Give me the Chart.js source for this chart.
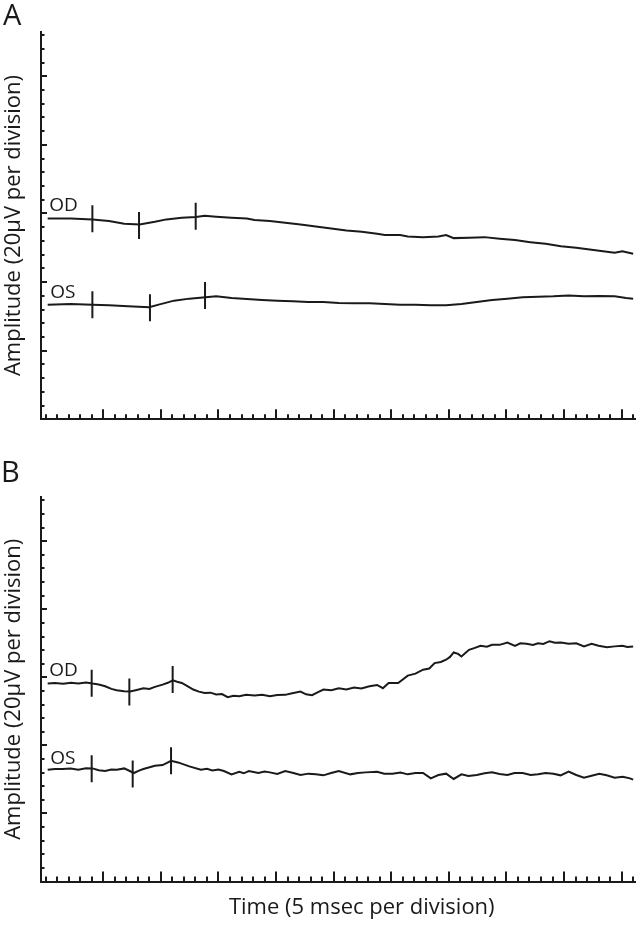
<!DOCTYPE html>
<html>
<head>
<meta charset="utf-8">
<script src="https://cdn.jsdelivr.net/npm/chart.js@4.4.1/dist/chart.umd.min.js"></script>
<style>
  html, body { margin: 0; padding: 0; background: #fff; }
  canvas { display: block; }
</style>
</head>
<body>
<canvas id="chartA" width="639" height="440"></canvas>
<canvas id="chartB" width="639" height="486"></canvas>
<script>
/* ── Data: time in msec (5 msec per division), amplitude in µV (20 µV per division) ── */
const timeA_OD = [0.17, 2.17, 4.06, 5.49, 6.82, 8.15, 9.48, 10.48, 11.81, 13.04, 13.80, 14.80, 16.13, 17.46, 18.13, 19.46, 20.79, 22.12, 23.45, 24.78, 26.11, 27.44, 28.77, 29.44, 30.77, 31.43, 32.76, 34.09, 34.76, 35.42, 36.75, 38.08, 39.41, 40.74, 42.07, 43.40, 44.73, 46.06, 47.39, 48.72, 49.39, 50.06, 51.0];
const ampA_OD  = [58.57, 58.57, 58.28, 57.79, 57.01, 56.82, 57.60, 58.28, 58.77, 58.96, 59.35, 59.06, 58.77, 58.57, 58.09, 57.79, 57.31, 56.82, 56.23, 55.65, 55.06, 54.67, 54.09, 53.70, 53.70, 53.31, 53.11, 53.31, 53.70, 52.82, 52.92, 53.11, 52.63, 52.24, 51.65, 51.16, 50.48, 49.99, 49.41, 48.83, 48.53, 49.02, 48.24];

const timeA_OS = [0.17, 2.17, 4.06, 5.49, 7.15, 8.98, 9.81, 11.14, 12.47, 13.87, 14.80, 16.13, 17.46, 18.79, 20.12, 21.45, 22.78, 24.11, 25.44, 26.77, 28.11, 29.44, 30.77, 32.10, 33.43, 34.76, 36.09, 37.42, 38.75, 40.08, 41.41, 42.74, 44.07, 45.40, 46.73, 48.06, 49.39, 50.39, 51.0];
const ampA_OS  = [33.43, 33.62, 33.43, 33.23, 32.94, 32.65, 33.43, 34.59, 35.18, 35.57, 35.86, 35.37, 35.08, 34.79, 34.59, 34.40, 34.21, 34.21, 33.91, 33.82, 33.82, 33.62, 33.43, 33.43, 33.23, 33.23, 33.62, 34.21, 34.79, 35.18, 35.57, 35.76, 35.86, 36.06, 35.86, 35.96, 35.86, 35.37, 35.18];

const timeB_OD = [0.17, 0.8, 1.5, 2.2, 2.83, 3.5, 4.06, 4.6, 5.16, 5.7, 6.16, 6.8, 7.32, 7.9, 8.48, 9.0, 9.48, 10.15, 10.6, 11.04, 11.4, 11.81, 12.3, 12.81, 13.3, 13.80, 14.3, 14.80, 15.3, 15.80, 16.3, 16.80, 17.4, 18.13, 18.8, 19.46, 20.1, 20.79, 21.4, 22.12, 22.6, 23.12, 23.6, 24.11, 24.8, 25.44, 26.1, 26.77, 27.4, 28.11, 28.77, 29.27, 29.77, 30.60, 31.43, 32.1, 32.76, 33.3, 33.76, 34.3, 34.76, 35.1, 35.42, 35.8, 36.09, 36.75, 37.2, 37.75, 38.3, 38.75, 39.41, 40.08, 40.74, 41.2, 41.74, 42.3, 42.74, 43.2, 43.74, 44.2, 44.73, 45.4, 46.06, 46.73, 47.39, 48.0, 48.72, 49.4, 50.06, 50.5, 51.0];
const ampB_OD  = [58.16, 58.3, 58.1, 58.4, 58.2, 58.5, 58.16, 57.9, 57.38, 56.6, 56.21, 55.9, 55.82, 56.3, 56.8, 56.6, 57.19, 57.87, 58.4, 59.13, 58.7, 58.35, 57.4, 56.41, 55.8, 55.43, 55.5, 54.95, 55.1, 54.17, 54.6, 54.46, 54.9, 54.66, 54.9, 54.46, 54.8, 54.85, 55.3, 55.82, 55.0, 54.75, 55.6, 56.41, 56.2, 56.80, 56.4, 56.99, 56.7, 57.38, 57.77, 56.80, 58.35, 58.35, 60.50, 61.1, 62.25, 62.6, 64.19, 64.5, 65.17, 66.0, 67.31, 66.9, 66.14, 68.09, 68.6, 69.25, 69.0, 69.55, 69.55, 70.23, 69.25, 70.0, 69.84, 69.5, 70.03, 69.8, 70.62, 70.2, 70.23, 69.9, 70.03, 69.06, 69.84, 69.3, 68.87, 69.1, 69.25, 68.9, 69.06];

const timeB_OS = [0.17, 0.8, 1.50, 2.17, 2.83, 3.5, 4.06, 4.6, 5.16, 5.7, 6.16, 6.82, 7.65, 8.1, 8.48, 9.48, 10.15, 10.88, 11.48, 12.47, 13.47, 14.0, 14.47, 15.0, 15.47, 16.13, 16.80, 17.2, 17.63, 18.46, 19.0, 19.46, 20.1, 20.79, 21.5, 22.12, 22.8, 23.45, 24.1, 24.78, 25.44, 26.44, 27.1, 27.77, 28.77, 29.4, 30.10, 30.8, 31.43, 32.1, 32.76, 33.43, 34.09, 34.76, 35.42, 36.09, 36.7, 37.42, 38.1, 38.75, 39.4, 40.08, 40.7, 41.41, 42.1, 42.74, 43.4, 44.07, 44.7, 45.40, 46.06, 46.73, 47.39, 48.06, 48.7, 49.39, 50.1, 50.72, 51.0];
const ampB_OS  = [32.85, 33.05, 33.05, 33.24, 32.85, 33.3, 33.24, 32.7, 32.46, 32.9, 32.85, 33.24, 31.88, 32.6, 33.05, 34.02, 34.22, 35.48, 35.00, 33.83, 32.85, 33.1, 32.66, 32.9, 32.46, 31.49, 32.27, 31.8, 32.46, 31.88, 32.3, 32.07, 31.6, 32.46, 31.9, 31.30, 31.7, 31.49, 31.2, 31.88, 32.46, 31.49, 31.9, 32.07, 32.27, 31.7, 31.69, 32.0, 31.49, 31.9, 31.88, 30.32, 31.30, 31.69, 30.13, 31.49, 31.0, 31.30, 31.8, 32.07, 31.6, 31.30, 31.9, 31.88, 31.3, 31.49, 31.9, 31.69, 31.2, 32.27, 31.30, 30.52, 31.10, 31.69, 31.2, 30.52, 30.8, 30.32, 29.93];

/* stimulus / peak markers (vertical cursors on each trace) */
const markA_OD_t = [4.05, 8.10, 13.02];
const markA_OD_v = [58.5, 56.5, 59.2];
const markA_OS_t = [4.05, 9.05, 13.83];
const markA_OS_v = [33.4, 32.5, 36.1];
const markB_OD_t = [3.99, 7.26, 11.02];
const markB_OD_v = [58.3, 55.7, 59.4];
const markB_OS_t = [3.99, 7.55, 10.88];
const markB_OS_v = [33.1, 31.6, 35.5];

/* trace labels: [text, time, amplitude at baseline] */
const labelsA = [['OD', 0.3, 60.7], ['OS', 0.4, 35.4]];
const labelsB = [['OD', 0.3, 60.3], ['OS', 0.4, 34.5]];

const X_MIN = -0.41, X_MAX = 51.16;
const Y_MIN = 0, Y_MAX = 113;
const X_MINOR = 1, X_MAJOR = 5;     // msec
const Y_MINOR = 4, Y_MAJOR = 20;    // µV

const INK  = '#1a1a1a';
const FONT = "'Open Sans', 'Noto Sans', sans-serif";

const pts = (ts, vs) => ts.map((t, i) => ({ x: t, y: vs[i] }));

/* ── Ticks drawn inward from the axes, plus text annotations ── */
const scopeAxes = {
  id: 'scopeAxes',
  afterDraw(chart, args, opts) {
    const { ctx, chartArea: a, scales: { x, y } } = chart;
    ctx.save();
    ctx.strokeStyle = INK;
    ctx.lineWidth = 2;
    ctx.beginPath();
    for (let v = 0; v <= X_MAX; v += X_MINOR) {
      const px = Math.round(x.getPixelForValue(v));
      const len = (v > 0 && v % X_MAJOR === 0) ? 10 : 5;
      ctx.moveTo(px, a.bottom);
      ctx.lineTo(px, a.bottom - len);
    }
    for (let v = Y_MINOR; v <= Y_MAX; v += Y_MINOR) {
      const py = Math.round(y.getPixelForValue(v));
      const len = v % Y_MAJOR === 0 ? 6 : 3.5;
      ctx.moveTo(a.left, py);
      ctx.lineTo(a.left + len, py);
    }
    ctx.stroke();

    ctx.fillStyle = INK;
    ctx.textBaseline = 'alphabetic';
    ctx.textAlign = 'left';
    ctx.font = `19px ${FONT}`;
    opts.labels.forEach(([txt, t, v]) => ctx.fillText(txt, x.getPixelForValue(t), y.getPixelForValue(v)));

    ctx.font = `29px ${FONT}`;
    ctx.fillText(opts.panel, opts.panelX, opts.panelY);

    if (opts.xTitle) {
      ctx.font = `22px ${FONT}`;
      ctx.textAlign = 'center';
      ctx.fillText(opts.xTitle, a.left + a.width * 0.54, a.bottom + 32);
    }
    ctx.restore();
  }
};

function makeScope(id, od, os, mOD, mOS, labels, panel, panelX, panelY, padTop, padBottom, xTitle) {
  const trace = data => ({
    type: 'line', data, borderColor: INK, borderWidth: 2,
    pointRadius: 0, tension: 0, fill: false,
  });
  const marks = data => ({
    type: 'scatter', data, pointStyle: 'line', rotation: 90,
    radius: 13.5, borderColor: INK, borderWidth: 2, backgroundColor: INK,
  });

  return new Chart(document.getElementById(id), {
    data: { datasets: [trace(od), trace(os), marks(mOD), marks(mOS)] },
    options: {
      responsive: false, animation: false,
      layout: { autoPadding: false, padding: { top: padTop, bottom: padBottom, left: 0, right: 4 } },
      plugins: {
        legend: { display: false }, tooltip: { enabled: false },
        scopeAxes: { labels, panel, panelX, panelY, xTitle },
      },
      scales: {
        x: {
          type: 'linear', min: X_MIN, max: X_MAX,
          ticks: { display: false },
          grid: { drawOnChartArea: false, drawTicks: false },
          border: { display: true, color: INK, width: 2 },
        },
        y: {
          min: Y_MIN, max: Y_MAX,
          ticks: { display: false },
          grid: { drawOnChartArea: false, drawTicks: false },
          border: { display: true, color: INK, width: 2 },
          title: {
            display: true, text: 'Amplitude (20µV per division)', color: INK,
            font: { family: FONT, size: 22 }, padding: { top: 0.5, bottom: 14.1 },
          },
        },
      },
    },
    plugins: [scopeAxes],
  });
}

makeScope('chartA',
  pts(timeA_OD, ampA_OD), pts(timeA_OS, ampA_OS),
  pts(markA_OD_t, markA_OD_v), pts(markA_OS_t, markA_OS_v),
  labelsA, 'A', 3, 25, 31.7, 20.7, null);

makeScope('chartB',
  pts(timeB_OD, ampB_OD), pts(timeB_OS, ampB_OS),
  pts(markB_OD_t, markB_OD_v), pts(markB_OS_t, markB_OS_v),
  labelsB, 'B', 1, 42, 57, 44.5, 'Time (5 msec per division)');
</script>
</body>
</html>
